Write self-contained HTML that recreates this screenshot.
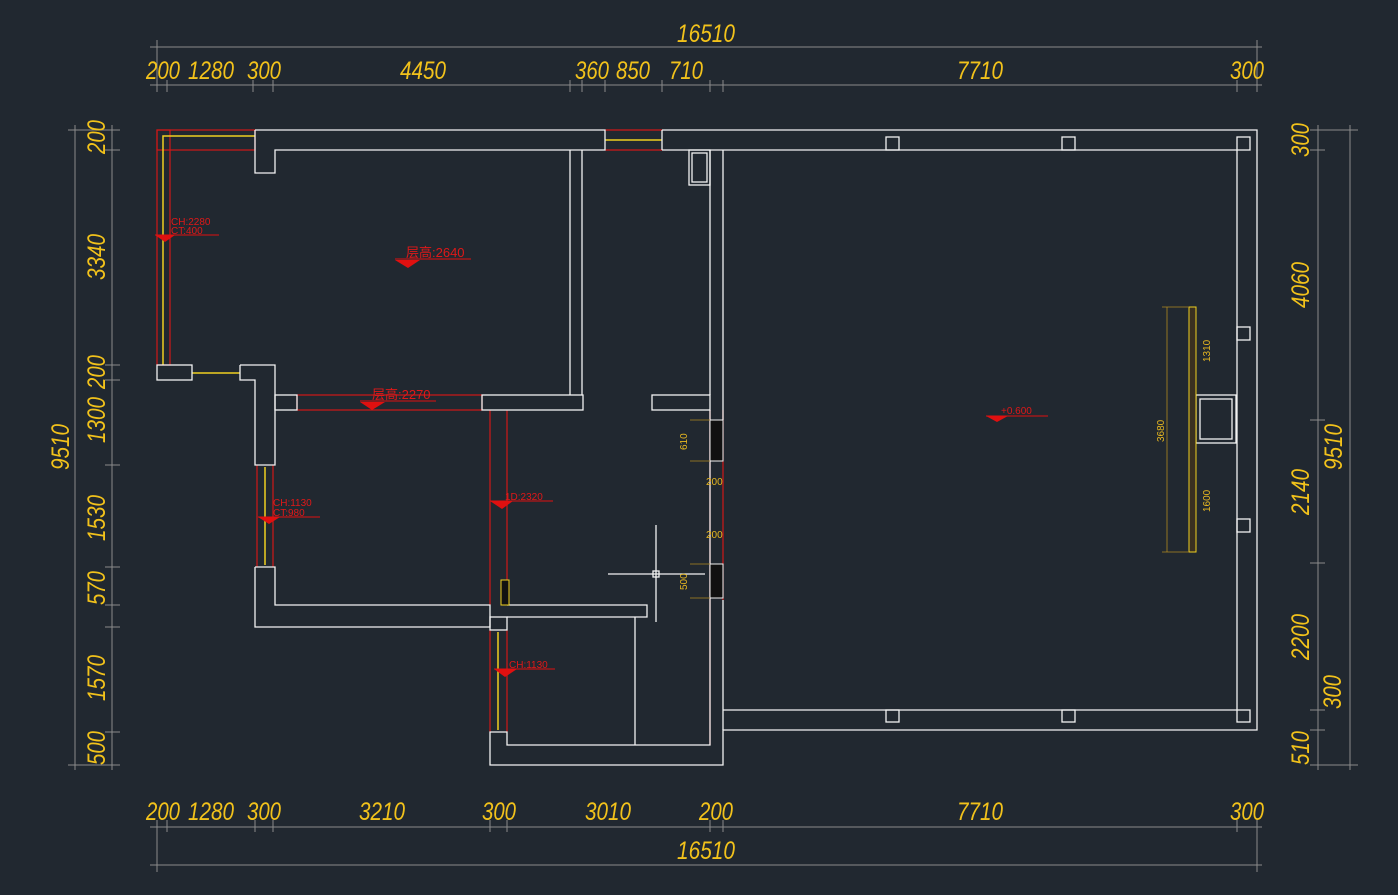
<!DOCTYPE html>
<html><head><meta charset="utf-8"><style>
html,body{margin:0;padding:0;background:#212830;}
svg{display:block}
.d{font-family:"Liberation Sans",sans-serif;font-style:italic;fill:#f2c21b;font-size:25px}
.s{font-family:"Liberation Sans",sans-serif;fill:#e8b820;font-size:10px}
.r{font-family:"Liberation Sans","Noto Sans CJK SC",sans-serif;fill:#e01818;font-size:10px}
</style></head><body>
<svg width="1398" height="895" viewBox="0 0 1398 895" xmlns="http://www.w3.org/2000/svg">
<rect width="1398" height="895" fill="#212830"/>
<g stroke="#8a8a8a" stroke-width="1" fill="none">
<line x1="150" y1="47" x2="1262" y2="47"/><line x1="150" y1="85" x2="1262" y2="85"/>
<line x1="150" y1="827" x2="1262" y2="827"/><line x1="150" y1="865" x2="1262" y2="865"/>
<line x1="75" y1="125" x2="75" y2="770"/><line x1="112" y1="125" x2="112" y2="770"/>
<line x1="1318" y1="125" x2="1318" y2="770"/><line x1="1350" y1="125" x2="1350" y2="770"/>
<line x1="157" y1="40" x2="157" y2="92"/><line x1="1257" y1="40" x2="1257" y2="92"/>
<line x1="167" y1="80" x2="167" y2="92"/><line x1="253" y1="80" x2="253" y2="92"/><line x1="273" y1="80" x2="273" y2="92"/><line x1="570" y1="80" x2="570" y2="92"/><line x1="582" y1="80" x2="582" y2="92"/><line x1="605" y1="80" x2="605" y2="92"/><line x1="662" y1="80" x2="662" y2="92"/><line x1="710" y1="80" x2="710" y2="92"/><line x1="723" y1="80" x2="723" y2="92"/><line x1="1237" y1="80" x2="1237" y2="92"/>
<line x1="157" y1="820" x2="157" y2="872"/><line x1="1257" y1="820" x2="1257" y2="872"/>
<line x1="167" y1="820" x2="167" y2="832"/><line x1="255" y1="820" x2="255" y2="832"/><line x1="273" y1="820" x2="273" y2="832"/><line x1="490" y1="820" x2="490" y2="832"/><line x1="507" y1="820" x2="507" y2="832"/><line x1="710" y1="820" x2="710" y2="832"/><line x1="723" y1="820" x2="723" y2="832"/><line x1="1237" y1="820" x2="1237" y2="832"/>
<line x1="68" y1="130" x2="120" y2="130"/><line x1="68" y1="765" x2="120" y2="765"/>
<line x1="105" y1="150" x2="120" y2="150"/><line x1="105" y1="365" x2="120" y2="365"/><line x1="105" y1="380" x2="120" y2="380"/><line x1="105" y1="465" x2="120" y2="465"/><line x1="105" y1="567" x2="120" y2="567"/><line x1="105" y1="605" x2="120" y2="605"/><line x1="105" y1="627" x2="120" y2="627"/><line x1="105" y1="732" x2="120" y2="732"/>
<line x1="1310" y1="130" x2="1358" y2="130"/><line x1="1310" y1="765" x2="1358" y2="765"/>
<line x1="1310" y1="150" x2="1325" y2="150"/><line x1="1310" y1="420" x2="1325" y2="420"/><line x1="1310" y1="563" x2="1325" y2="563"/><line x1="1310" y1="710" x2="1325" y2="710"/><line x1="1310" y1="730" x2="1325" y2="730"/>
</g>
<g class="d" text-anchor="middle">
<text x="706" y="42" textLength="58" lengthAdjust="spacingAndGlyphs">16510</text>
<text x="163" y="79" textLength="34" lengthAdjust="spacingAndGlyphs">200</text><text x="211" y="79" textLength="46" lengthAdjust="spacingAndGlyphs">1280</text><text x="264" y="79" textLength="34" lengthAdjust="spacingAndGlyphs">300</text><text x="423" y="79" textLength="46" lengthAdjust="spacingAndGlyphs">4450</text><text x="592" y="79" textLength="34" lengthAdjust="spacingAndGlyphs">360</text><text x="633" y="79" textLength="34" lengthAdjust="spacingAndGlyphs">850</text><text x="686" y="79" textLength="34" lengthAdjust="spacingAndGlyphs">710</text><text x="980" y="79" textLength="46" lengthAdjust="spacingAndGlyphs">7710</text><text x="1247" y="79" textLength="34" lengthAdjust="spacingAndGlyphs">300</text>
<text x="163" y="820" textLength="34" lengthAdjust="spacingAndGlyphs">200</text><text x="211" y="820" textLength="46" lengthAdjust="spacingAndGlyphs">1280</text><text x="264" y="820" textLength="34" lengthAdjust="spacingAndGlyphs">300</text><text x="382" y="820" textLength="46" lengthAdjust="spacingAndGlyphs">3210</text><text x="499" y="820" textLength="34" lengthAdjust="spacingAndGlyphs">300</text><text x="608" y="820" textLength="46" lengthAdjust="spacingAndGlyphs">3010</text><text x="716" y="820" textLength="34" lengthAdjust="spacingAndGlyphs">200</text><text x="980" y="820" textLength="46" lengthAdjust="spacingAndGlyphs">7710</text><text x="1247" y="820" textLength="34" lengthAdjust="spacingAndGlyphs">300</text>
<text x="706" y="859" textLength="58" lengthAdjust="spacingAndGlyphs">16510</text>
<text transform="translate(69,447) rotate(-90)" textLength="46" lengthAdjust="spacingAndGlyphs">9510</text>
<text transform="translate(105,137) rotate(-90)" textLength="34" lengthAdjust="spacingAndGlyphs">200</text>
<text transform="translate(105,257) rotate(-90)" textLength="46" lengthAdjust="spacingAndGlyphs">3340</text>
<text transform="translate(105,372) rotate(-90)" textLength="34" lengthAdjust="spacingAndGlyphs">200</text>
<text transform="translate(105,420) rotate(-90)" textLength="46" lengthAdjust="spacingAndGlyphs">1300</text>
<text transform="translate(105,518) rotate(-90)" textLength="46" lengthAdjust="spacingAndGlyphs">1530</text>
<text transform="translate(105,588) rotate(-90)" textLength="34" lengthAdjust="spacingAndGlyphs">570</text>
<text transform="translate(105,678) rotate(-90)" textLength="46" lengthAdjust="spacingAndGlyphs">1570</text>
<text transform="translate(105,748) rotate(-90)" textLength="34" lengthAdjust="spacingAndGlyphs">500</text>
<text transform="translate(1309,140) rotate(-90)" textLength="34" lengthAdjust="spacingAndGlyphs">300</text>
<text transform="translate(1309,285) rotate(-90)" textLength="46" lengthAdjust="spacingAndGlyphs">4060</text>
<text transform="translate(1309,492) rotate(-90)" textLength="46" lengthAdjust="spacingAndGlyphs">2140</text>
<text transform="translate(1309,637) rotate(-90)" textLength="46" lengthAdjust="spacingAndGlyphs">2200</text>
<text transform="translate(1341,692) rotate(-90)" textLength="34" lengthAdjust="spacingAndGlyphs">300</text>
<text transform="translate(1309,748) rotate(-90)" textLength="34" lengthAdjust="spacingAndGlyphs">510</text>
<text transform="translate(1342,447) rotate(-90)" textLength="46" lengthAdjust="spacingAndGlyphs">9510</text>
</g>
<g stroke="#d01818" stroke-width="1.2" fill="none">
<rect x="157" y="130" width="98" height="20"/><rect x="157" y="130" width="13" height="235"/>
<rect x="297" y="395" width="185" height="15"/>
<line x1="490" y1="410" x2="490" y2="605"/><line x1="507" y1="410" x2="507" y2="605"/>
<line x1="257" y1="465" x2="257" y2="567"/><line x1="273" y1="465" x2="273" y2="567"/>
<line x1="490" y1="630" x2="490" y2="732"/><line x1="507" y1="630" x2="507" y2="732"/>
<line x1="605" y1="130" x2="662" y2="130"/><line x1="605" y1="150" x2="662" y2="150"/>
<line x1="710" y1="410" x2="710" y2="745"/><line x1="723" y1="410" x2="723" y2="600"/>
</g>
<g stroke="#f0d020" stroke-width="1.5" fill="none">
<polyline points="163,365 163,136 255,136"/>
<line x1="192" y1="373" x2="240" y2="373"/>
<line x1="265" y1="467" x2="265" y2="565"/>
<line x1="498" y1="632" x2="498" y2="730"/>
<line x1="605" y1="140" x2="662" y2="140"/>
</g>
<g stroke="#f2f2f2" stroke-width="1.3" fill="none">
<polyline points="255,130 605,130 605,150 275,150 275,173 255,173 255,130"/>
<line x1="570" y1="150" x2="570" y2="395"/><line x1="582" y1="150" x2="582" y2="395"/>
<polyline points="662,130 1257,130 1257,730 723,730 723,765 490,765 490,732 507,732 507,745 710,745 710,410"/>
<line x1="662" y1="130" x2="662" y2="150"/><line x1="662" y1="150" x2="1237" y2="150"/>
<line x1="1237" y1="150" x2="1237" y2="710"/><line x1="723" y1="710" x2="1237" y2="710"/>
<line x1="723" y1="150" x2="723" y2="420"/><line x1="723" y1="600" x2="723" y2="730"/>
<line x1="710" y1="150" x2="710" y2="395"/>
<rect x="157" y="365" width="35" height="15"/>
<polyline points="240,365 275,365 275,465 255,465 255,380 240,380 240,365"/>
<rect x="275" y="395" width="22" height="15"/>
<rect x="482" y="395" width="101" height="15"/>
<rect x="652" y="395" width="58" height="15"/>
<polyline points="255,567 275,567 275,605 490,605 490,627 255,627 255,567"/>
<polyline points="507,605 647,605 647,617 507,617"/>
<rect x="490" y="617" width="17" height="13"/>
<line x1="635" y1="617" x2="635" y2="745"/>
<rect x="689" y="150" width="21" height="35"/><rect x="692" y="153" width="15" height="29"/>
<rect x="886" y="137" width="13" height="13"/><rect x="1062" y="137" width="13" height="13"/><rect x="1237" y="137" width="13" height="13"/>
<rect x="886" y="710" width="13" height="12"/><rect x="1062" y="710" width="13" height="12"/><rect x="1237" y="710" width="13" height="12"/>
<rect x="1237" y="327" width="13" height="13"/><rect x="1237" y="519" width="13" height="13"/>
<rect x="1196" y="395" width="40" height="48"/><rect x="1200" y="399" width="32" height="40"/>
<line x1="656" y1="525" x2="656" y2="622"/><line x1="608" y1="574" x2="705" y2="574"/>
<rect x="653" y="571" width="6" height="6"/>
</g>
<g fill="#111" stroke="#f2f2f2" stroke-width="1">
<rect x="710" y="420" width="13" height="41"/><rect x="710" y="564" width="13" height="34"/>
<rect x="501" y="580" width="8" height="25" stroke="#f0d020"/>
<rect x="1189" y="307" width="7" height="245" stroke="#f0d020" fill="#3a3020"/>
</g>
<g stroke="#b08a20" stroke-width="0.8"><line x1="1167" y1="307" x2="1167" y2="552"/><line x1="1162" y1="307" x2="1189" y2="307"/><line x1="1162" y1="552" x2="1189" y2="552"/><line x1="690" y1="420" x2="710" y2="420"/><line x1="690" y1="461" x2="710" y2="461"/><line x1="690" y1="564" x2="710" y2="564"/><line x1="690" y1="598" x2="710" y2="598"/></g>
<g class="s">
<text x="706" y="485">200</text><text x="706" y="538">200</text>
<text transform="translate(687,450) rotate(-90)">610</text>
<text transform="translate(687,590) rotate(-90)">500</text>
<text transform="translate(1164,442) rotate(-90)">3680</text>
<text transform="translate(1210,362) rotate(-90)">1310</text>
<text transform="translate(1210,512) rotate(-90)">1600</text>
</g>
<g fill="#e01010">
<polygon points="155,235 175,235 165,242"/><polygon points="395,260 420,260 408,268"/><polygon points="360,402 385,402 372,410"/>
<polygon points="258,517 280,517 269,524"/><polygon points="490,501 513,501 502,509"/><polygon points="494,669 517,669 505,677"/><polygon points="986,416 1008,416 997,422"/>
</g>
<g stroke="#e01010" stroke-width="1"><line x1="155" y1="235" x2="219" y2="235"/><line x1="395" y1="259" x2="471" y2="259"/><line x1="360" y1="401" x2="436" y2="401"/><line x1="258" y1="517" x2="320" y2="517"/><line x1="490" y1="501" x2="553" y2="501"/><line x1="494" y1="669" x2="555" y2="669"/><line x1="986" y1="416" x2="1048" y2="416"/></g>
<g class="r">
<text x="171" y="225">CH:2280</text><text x="171" y="234">CT:400</text>
<text x="406" y="257" font-size="13">层高:2640</text><text x="372" y="399" font-size="13">层高:2270</text>
<text x="273" y="506">CH:1130</text><text x="273" y="516">CT:980</text>
<text x="505" y="500">1D:2320</text><text x="509" y="668">CH:1130</text><text x="1001" y="414">+0.600</text>
</g>
</svg>
</body></html>
